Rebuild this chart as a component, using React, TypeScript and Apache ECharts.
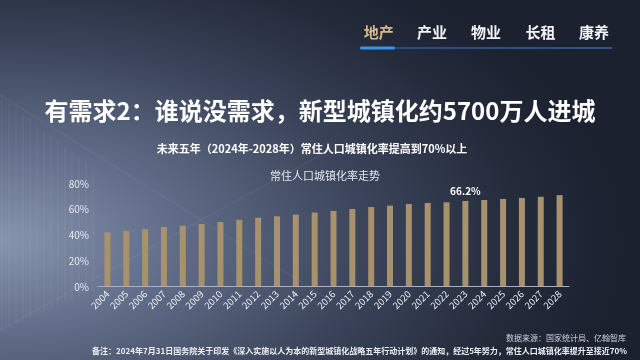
import React, { useEffect, useRef } from "react";
import * as echarts from "echarts";

const years = ["2004","2005","2006","2007","2008","2009","2010","2011","2012","2013","2014","2015","2016","2017","2018","2019","2020","2021","2022","2023","2024","2025","2026","2027","2028"];
const rates = [41.8, 43.0, 44.3, 45.9, 47.0, 48.3, 49.9, 51.6, 53.1, 54.3, 55.6, 57.2, 58.5, 60.0, 61.5, 62.6, 63.9, 64.7, 65.2, 66.2, 67.0, 67.8, 68.6, 69.5, 70.8];
const labelledYear = "2023";
const yTicks = [0, 20, 40, 60, 80];
const navItems = ["地产", "产业", "物业", "长租", "康养"];

const mainTitle = "有需求2：谁说没需求，新型城镇化约5700万人进城";
const subTitle = "未来五年（2024年-2028年）常住人口城镇化率提高到70%以上";
const chartTitle = "常住人口城镇化率走势";
const sourceText = "数据来源：国家统计局、亿翰智库";
const noteText = "备注：2024年7月31日国务院关于印发《深入实施以人为本的新型城镇化战略五年行动计划》的通知，经过5年努力，常住人口城镇化率提升至接近70%";

const FONT = '"Noto Sans CJK SC", "Noto Sans", sans-serif';

export default function App() {
  const ref = useRef<HTMLDivElement>(null);
  useEffect(() => {
    if (!ref.current) return;
    const chart = echarts.init(ref.current, null, { renderer: "svg" });
    const navX = [378.7, 432, 486, 540.5, 594];
    const deco: any[] = [];
    for (let i = 0; i < 14; i++) {
      const x = 2 + i * 7;
      deco.push({
        type: "line",
        shape: { x1: x, y1: 97 + i * 5.5, x2: x, y2: 330 - i * 3 },
        style: { stroke: "rgba(255,255,255,0.07)", lineWidth: 1 },
        silent: true,
      });
    }
    deco.push({ type: "line", shape: { x1: 0, y1: 95, x2: 330, y2: 300 }, style: { stroke: "rgba(255,255,255,0.07)", lineWidth: 1 }, silent: true });
    deco.push({ type: "line", shape: { x1: 0, y1: 330, x2: 330, y2: 150 }, style: { stroke: "rgba(255,255,255,0.07)", lineWidth: 1 }, silent: true });

    chart.setOption({
      animation: false,
      backgroundColor: "transparent",
      grid: { left: 98, right: 71, top: 183.3, bottom: 74, containLabel: false },
      xAxis: {
        type: "category",
        data: years,
        axisLine: { lineStyle: { color: "#a9b0bf", width: 1 } },
        axisTick: { show: false },
        axisLabel: { rotate: 45, color: "#eef0f4", fontSize: 9.5, fontFamily: FONT, margin: 6, interval: 0 },
      },
      yAxis: {
        type: "value",
        min: yTicks[0],
        max: yTicks[yTicks.length - 1],
        interval: 20,
        axisLine: { show: false },
        axisTick: { show: false },
        splitLine: { show: false },
        axisLabel: { color: "#e6e9ef", fontSize: 10, fontFamily: FONT, margin: 9, formatter: "{value}%" },
      },
      series: [
        {
          type: "bar",
          barWidth: 6,
          itemStyle: { color: "#a8916d" },
          data: rates.map((v, i) =>
            years[i] === labelledYear
              ? { value: v, label: { show: true, position: "top", distance: 6, formatter: v.toFixed(1) + "%", color: "#ffffff", fontWeight: "bold", fontSize: 10, fontFamily: FONT } }
              : v
          ),
        },
      ],
      graphic: [
        ...deco,
        ...navItems.map((t, i) => ({
          type: "text",
          x: navX[i],
          y: 31.5,
          style: { text: t, fill: i === 0 ? "#d9b98b" : "#f2f3f5", font: `bold 15px ${FONT}`, textAlign: "center", textVerticalAlign: "middle" },
        })),
        {
          type: "rect",
          shape: { x: 360, y: 47.5, width: 252, height: 1 },
          style: {
            fill: new echarts.graphic.LinearGradient(0, 0, 1, 0, [
              { offset: 0, color: "#2b6cb5" },
              { offset: 1, color: "#3b8ee6" },
            ]),
          },
        },
        { type: "rect", shape: { x: 360, y: 46.5, width: 35, height: 3, r: 1.5 }, style: { fill: "#3b93ee" } },
        {
          type: "text",
          x: 320,
          y: 109,
          style: { text: mainTitle, fill: "#ffffff", font: `bold 24px ${FONT}`, textAlign: "center", textVerticalAlign: "middle" },
        },
        {
          type: "text",
          x: 312,
          y: 147.5,
          style: { text: subTitle, fill: "#ffffff", font: `bold 11px ${FONT}`, textAlign: "center", textVerticalAlign: "middle" },
        },
        {
          type: "text",
          x: 325,
          y: 175,
          style: { text: chartTitle, fill: "#e4e7ed", font: `11px ${FONT}`, textAlign: "center", textVerticalAlign: "middle" },
        },
        {
          type: "text",
          x: 626,
          y: 337.5,
          style: { text: sourceText, fill: "#cdd2db", font: `8px ${FONT}`, textAlign: "right", textVerticalAlign: "middle" },
        },
        {
          type: "text",
          x: 627,
          y: 350.5,
          style: { text: noteText, fill: "#eceef2", font: `bold 8px ${FONT}`, textAlign: "right", textVerticalAlign: "middle" },
        },
      ],
    });
    return () => chart.dispose();
  }, []);

  return (
    <div
      style={{
        position: "fixed",
        left: 0,
        top: 0,
        width: 640,
        height: 360,
        background:
          "radial-gradient(ellipse 620px 330px at 0px 240px, #8794ae 0%, #5f6b86 30%, #3a4359 60%, #232a3a 85%, #1c2130 100%)",
      }}
    >
      <div ref={ref} style={{ width: 640, height: 360 }} />
    </div>
  );
}
